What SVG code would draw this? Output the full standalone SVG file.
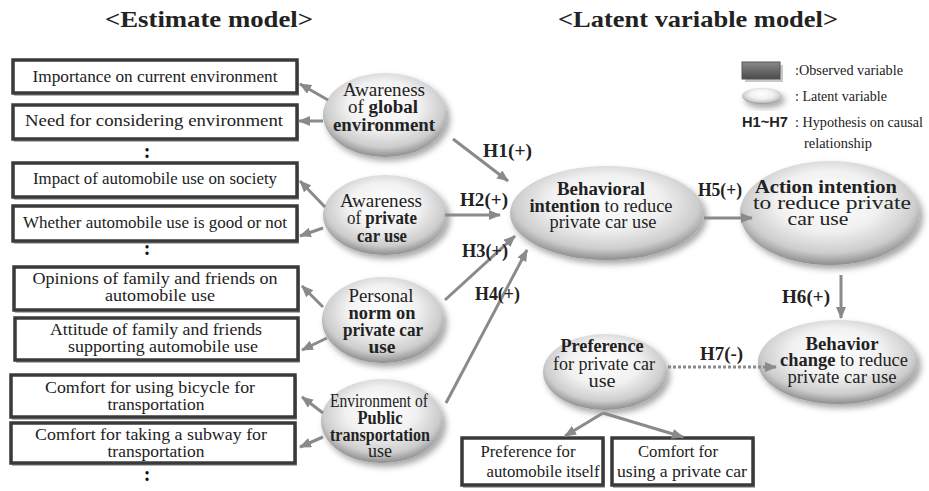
<svg xmlns="http://www.w3.org/2000/svg" width="929" height="491" viewBox="0 0 929 491">
  <style>
    text { font-family: "Liberation Serif", "Times New Roman", Times, serif; fill: #222; }
    .title { font-weight: bold; font-size: 23px; }
    .bt { font-size: 17px; text-anchor: middle; }
    .et { font-size: 18px; text-anchor: middle; }
    .big { font-size: 19px; }
    .b { font-weight: bold; }
    .hl { font-weight: bold; font-size: 18px; }
    .lg { font-size: 14px; }
    .box { fill: #fff; stroke: #3a3a3a; stroke-width: 3.5; }
    .boxsh { fill: #b4b4b4; }
    .lat { fill: url(#latGrad); filter: url(#shadow); }
    .conn { stroke: #8a8a8a; stroke-width: 3; fill: none; marker-end: url(#arr); }
    .dash { stroke-dasharray: 3 2; }
    .colon { font-weight: bold; font-size: 20px; fill: #111; text-anchor: middle; }
  </style>
  <defs>
    <radialGradient id="latGrad" cx="50%" cy="42%" r="58%" fx="48%" fy="35%">
      <stop offset="0" stop-color="#ffffff"/>
      <stop offset="0.5" stop-color="#f1f1f1"/>
      <stop offset="0.82" stop-color="#cdcdcd"/>
      <stop offset="1" stop-color="#8e8e8e"/>
    </radialGradient>
    <linearGradient id="obsGrad" x1="0" y1="0" x2="0" y2="1">
      <stop offset="0" stop-color="#8a8a8a"/>
      <stop offset="1" stop-color="#4a4a4a"/>
    </linearGradient>
    <filter id="shadow" x="-20%" y="-20%" width="150%" height="160%">
      <feDropShadow dx="3" dy="4" stdDeviation="3" flood-color="#000" flood-opacity="0.35"/>
    </filter>
    <marker id="arr" markerUnits="userSpaceOnUse" markerWidth="12" markerHeight="10" refX="11" refY="5" orient="auto">
      <path d="M0,0 L12,5 L0,10 Z" fill="#8a8a8a"/>
    </marker>
  </defs>

  <!-- headings -->
  <text class="title" x="105" y="27" textLength="208" lengthAdjust="spacingAndGlyphs">&lt;Estimate model&gt;</text>
  <text class="title" x="558" y="27" textLength="280" lengthAdjust="spacingAndGlyphs">&lt;Latent variable model&gt;</text>

  <!-- legend -->
  <g id="legend">
    <rect x="745" y="65" width="38" height="17" fill="#c8c8c8"/>
    <rect x="742" y="62" width="38" height="17" fill="url(#obsGrad)" stroke="#555" stroke-width="1"/>
    <text class="lg" x="795" y="75" textLength="108" lengthAdjust="spacingAndGlyphs">:Observed variable</text>
    <ellipse cx="762" cy="96" rx="20" ry="8" class="lat"/>
    <text class="lg" x="795" y="101" textLength="92" lengthAdjust="spacingAndGlyphs">: Latent variable</text>
    <text x="742" y="127" style="font-family: 'Liberation Sans', Arial, sans-serif" font-weight="bold" font-size="14" textLength="46" lengthAdjust="spacingAndGlyphs">H1~H7</text>
    <text class="lg" x="795" y="127" textLength="128" lengthAdjust="spacingAndGlyphs">: Hypothesis on causal</text>
    <text class="lg" x="804" y="148" textLength="68" lengthAdjust="spacingAndGlyphs">relationship</text>
  </g>

  <!-- observed variables -->
  <g id="obs1">
    <rect class="boxsh" x="14" y="63" width="285" height="33"/>
    <rect class="box" x="13" y="60" width="284" height="33"/>
    <text class="bt" x="155" y="82" textLength="245" lengthAdjust="spacingAndGlyphs">Importance on current environment</text>
  </g>
  <g id="obs2">
    <rect class="boxsh" x="14" y="108" width="285" height="34"/>
    <rect class="box" x="13" y="105" width="284" height="34"/>
    <text class="bt" x="154" y="126" textLength="258" lengthAdjust="spacingAndGlyphs">Need for considering environment</text>
  </g>
  <text class="colon" x="147" y="158">:</text>
  <g id="obs3">
    <rect class="boxsh" x="14" y="166" width="285" height="34"/>
    <rect class="box" x="13" y="163" width="284" height="34"/>
    <text class="bt" x="155" y="184" textLength="244" lengthAdjust="spacingAndGlyphs">Impact of automobile use on society</text>
  </g>
  <g id="obs4">
    <rect class="boxsh" x="14" y="209" width="285" height="35"/>
    <rect class="box" x="13" y="206" width="284" height="35"/>
    <text class="bt" x="155" y="228" textLength="264" lengthAdjust="spacingAndGlyphs">Whether automobile use is good or not</text>
  </g>
  <text class="colon" x="147" y="255">:</text>
  <g id="obs5">
    <rect class="boxsh" x="15" y="270" width="285" height="43"/>
    <rect class="box" x="14" y="267" width="284" height="43"/>
    <text class="bt" x="155" y="284" textLength="245" lengthAdjust="spacingAndGlyphs">Opinions of family and friends on</text>
    <text class="bt" x="160" y="301" textLength="110" lengthAdjust="spacingAndGlyphs">automobile use</text>
  </g>
  <g id="obs6">
    <rect class="boxsh" x="16" y="321" width="284" height="42"/>
    <rect class="box" x="15" y="318" width="283" height="42"/>
    <text class="bt" x="156" y="335" textLength="212" lengthAdjust="spacingAndGlyphs">Attitude of family and friends</text>
    <text class="bt" x="163" y="352" textLength="190" lengthAdjust="spacingAndGlyphs">supporting automobile use</text>
  </g>
  <g id="obs7">
    <rect class="boxsh" x="12" y="378" width="285" height="42"/>
    <rect class="box" x="11" y="375" width="284" height="42"/>
    <text class="bt" x="150" y="393" textLength="210" lengthAdjust="spacingAndGlyphs">Comfort for using bicycle for</text>
    <text class="bt" x="156" y="410" textLength="97" lengthAdjust="spacingAndGlyphs">transportation</text>
  </g>
  <g id="obs8">
    <rect class="boxsh" x="12" y="426" width="285" height="40"/>
    <rect class="box" x="11" y="423" width="284" height="40"/>
    <text class="bt" x="151" y="440" textLength="232" lengthAdjust="spacingAndGlyphs">Comfort for taking a subway for</text>
    <text class="bt" x="156" y="457" textLength="97" lengthAdjust="spacingAndGlyphs">transportation</text>
  </g>
  <text class="colon" x="147" y="481">:</text>
  <g id="obs9">
    <rect class="boxsh" x="463" y="441" width="142" height="47"/>
    <rect class="box" x="462" y="438" width="141" height="47"/>
    <text class="bt" x="528" y="457" textLength="95" lengthAdjust="spacingAndGlyphs">Preference for</text>
    <text class="bt" x="543" y="477" textLength="113" lengthAdjust="spacingAndGlyphs">automobile itself</text>
  </g>
  <g id="obs10">
    <rect class="boxsh" x="613" y="441" width="142" height="47"/>
    <rect class="box" x="612" y="438" width="141" height="47"/>
    <text class="bt" x="678" y="457" textLength="80" lengthAdjust="spacingAndGlyphs">Comfort for</text>
    <text class="bt" x="682" y="477" textLength="130" lengthAdjust="spacingAndGlyphs">using a private car</text>
  </g>

  <!-- latent variables -->
  <g id="lat1">
    <ellipse class="lat" cx="385" cy="115" rx="62" ry="42"/>
    <text class="et" x="384" y="96" textLength="82" lengthAdjust="spacingAndGlyphs">Awareness</text>
    <text class="et" x="383" y="113" textLength="70" lengthAdjust="spacingAndGlyphs">of <tspan class="b">global</tspan></text>
    <text class="et b" x="384" y="131" textLength="102" lengthAdjust="spacingAndGlyphs">environment</text>
  </g>
  <g id="lat2">
    <ellipse class="lat" cx="385" cy="215" rx="62" ry="40"/>
    <text class="et" x="381" y="207" textLength="82" lengthAdjust="spacingAndGlyphs">Awareness</text>
    <text class="et" x="382" y="224" textLength="70" lengthAdjust="spacingAndGlyphs">of <tspan class="b">private</tspan></text>
    <text class="et b" x="382" y="242" textLength="50" lengthAdjust="spacingAndGlyphs">car use</text>
  </g>
  <g id="lat3">
    <ellipse class="lat" cx="383" cy="320" rx="61" ry="43"/>
    <text class="et" x="381" y="302" textLength="65" lengthAdjust="spacingAndGlyphs">Personal</text>
    <text class="et b" x="382" y="319" textLength="67" lengthAdjust="spacingAndGlyphs">norm on</text>
    <text class="et b" x="383" y="336" textLength="80" lengthAdjust="spacingAndGlyphs">private car</text>
    <text class="et b" x="382" y="353" textLength="27" lengthAdjust="spacingAndGlyphs">use</text>
  </g>
  <g id="lat4">
    <ellipse class="lat" cx="382" cy="421" rx="61" ry="42"/>
    <text class="et" x="379" y="407" textLength="98" lengthAdjust="spacingAndGlyphs">Environment of</text>
    <text class="et b" x="380" y="424" textLength="45" lengthAdjust="spacingAndGlyphs">Public</text>
    <text class="et b" x="380" y="441" textLength="100" lengthAdjust="spacingAndGlyphs">transportation</text>
    <text class="et" x="380" y="457" textLength="24" lengthAdjust="spacingAndGlyphs">use</text>
  </g>
  <g id="lat5">
    <ellipse class="lat" cx="607" cy="213" rx="97" ry="47"/>
    <text class="et b" x="601" y="195" textLength="88" lengthAdjust="spacingAndGlyphs">Behavioral</text>
    <text class="et" x="601" y="212" textLength="143" lengthAdjust="spacingAndGlyphs"><tspan class="b">intention</tspan> to reduce</text>
    <text class="et" x="603" y="228" textLength="107" lengthAdjust="spacingAndGlyphs">private car use</text>
  </g>
  <g id="lat6">
    <ellipse class="lat" cx="830" cy="213" rx="90" ry="52"/>
    <text class="et big b" x="826" y="193" textLength="142" lengthAdjust="spacingAndGlyphs">Action intention</text>
    <text class="et big" x="832" y="209" textLength="158" lengthAdjust="spacingAndGlyphs">to reduce private</text>
    <text class="et big" x="818" y="225" textLength="61" lengthAdjust="spacingAndGlyphs">car use</text>
  </g>
  <g id="lat7">
    <ellipse class="lat" cx="838" cy="362" rx="80" ry="42"/>
    <text class="et b" x="842" y="350" textLength="73" lengthAdjust="spacingAndGlyphs">Behavior</text>
    <text class="et" x="844" y="366" textLength="128" lengthAdjust="spacingAndGlyphs"><tspan class="b">change</tspan> to reduce</text>
    <text class="et" x="842" y="383" textLength="109" lengthAdjust="spacingAndGlyphs">private car use</text>
  </g>
  <g id="lat8">
    <ellipse class="lat" cx="605" cy="372" rx="62" ry="38"/>
    <text class="et b" x="602" y="352" textLength="83" lengthAdjust="spacingAndGlyphs">Preference</text>
    <text class="et" x="604" y="370" textLength="102" lengthAdjust="spacingAndGlyphs">for private car</text>
    <text class="et" x="602" y="387" textLength="27" lengthAdjust="spacingAndGlyphs">use</text>
  </g>

  <!-- connectors -->
  <g id="connectors">
    <path class="conn" d="M328,100 L300,84"/>
    <path class="conn" d="M323,121 L299,121"/>
    <path class="conn" d="M325,207 L300,181"/>
    <path class="conn" d="M323,228 L300,236"/>
    <path class="conn" d="M323,307 L302,286"/>
    <path class="conn" d="M327,338 L302,350"/>
    <path class="conn" d="M323,413 L302,397"/>
    <path class="conn" d="M323,437 L300,447"/>
    <path class="conn" d="M453,139 L508,181"/>
    <path class="conn" d="M445,215 L500,215"/>
    <path class="conn" d="M445,300 L515,236"/>
    <path class="conn" d="M446,403 L527,250"/>
    <path class="conn" d="M704,218 L752,218"/>
    <path class="conn" d="M841,275 L841,318"/>
    <path class="conn dash" d="M668,367 L776,367"/>
    <path class="conn" d="M603,413 L565,436"/>
    <path class="conn" d="M603,413 L683,437"/>
    <text class="hl" x="483" y="157" textLength="49" lengthAdjust="spacingAndGlyphs">H1(+)</text>
    <text class="hl" x="460" y="206" textLength="48" lengthAdjust="spacingAndGlyphs">H2(+)</text>
    <text class="hl" x="462" y="257" textLength="46" lengthAdjust="spacingAndGlyphs">H3(+)</text>
    <text class="hl" x="475" y="300" textLength="45" lengthAdjust="spacingAndGlyphs">H4(+)</text>
    <text class="hl" x="698" y="196" textLength="44" lengthAdjust="spacingAndGlyphs">H5(+)</text>
    <text class="hl" x="782" y="303" textLength="48" lengthAdjust="spacingAndGlyphs">H6(+)</text>
    <text class="hl" x="700" y="360" textLength="43" lengthAdjust="spacingAndGlyphs">H7(-)</text>
  </g>
</svg>
